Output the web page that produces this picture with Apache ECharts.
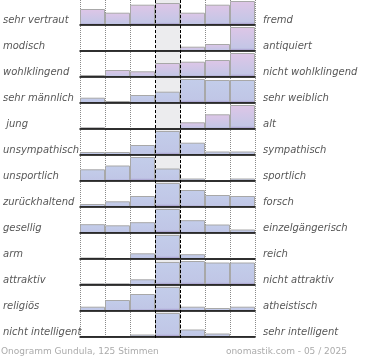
<!DOCTYPE html>
<html><head><meta charset="utf-8">
<script src="https://cdn.jsdelivr.net/npm/echarts@6/dist/echarts.min.js"></script>
<style>html,body{margin:0;padding:0;background:#fff}#c{width:370px;height:360px}</style>
</head><body><div id="c"></div>
<script>
// ---- data ----
const leftLabels = ['sehr vertraut','modisch','wohlklingend','sehr männlich',' jung','unsympathisch','unsportlich','zurückhaltend','gesellig','arm','attraktiv','religiös','nicht intelligent'];
const rightLabels = ['fremd','antiquiert','nicht wohlklingend','sehr weiblich','alt','sympathisch','sportlich','forsch','einzelgängerisch','reich','nicht attraktiv','atheistisch','sehr intelligent'];
const scaleSteps = ['1','2','3','4','5','6','7'];
const vertraut     = [16, 12.3, 20.3, 22, 12.3, 20.3, 24];
const modisch      = [0, 0.5, 0.5, 0.5, 4.3, 7, 24];
const wohlklingend = [2, 7, 5.7, 14, 15.3, 17, 24];
const maennlich    = [5.3, 2, 8, 11.3, 24, 23, 23];
const jung         = [1.7, 0, 0, 0, 6.7, 14.7, 24];
const unsympathisch= [3, 3, 10, 24, 12.3, 3.5, 3.5];
const unsportlich  = [11.7, 15.5, 24, 12.5, 2.5, 0, 2.5];
const zurueck      = [3, 5.7, 11, 24, 17, 12, 11];
const gesellig     = [8.8, 7.7, 10.8, 24, 12.8, 8.5, 3.5];
const arm          = [1.5, 1, 5.7, 24, 4.8, 0, 0];
const attraktiv    = [1.7, 1.7, 5.7, 23, 24, 22.5, 22.5];
const religioes    = [4.3, 11, 17, 24, 4.3, 3, 4.3];
const intelligent  = [0.5, 0.5, 2.5, 24, 7.5, 3.5, 1];
const rows = [vertraut, modisch, wohlklingend, maennlich, jung, unsympathisch, unsportlich, zurueck, gesellig, arm, attraktiv, religioes, intelligent];
const footerLeft = 'Onogramm Gundula, 125 Stimmen';
const footerRight = 'onomastik.com - 05 / 2025';

// ---- style ----
const maxValue = 24;
const pinkRows = [0, 1, 2, 4];
const ROW_H = 26, TOP = 1, BAR_H = 24, LEFT = 80, WIDTH = 175, LABEL_SHIFT = 7;
const labelStyle = {color:'#575757', fontStyle:'italic', fontFamily:'DejaVu Sans', fontSize:10};
function grad(pink) {
  return new echarts.graphic.LinearGradient(0, 0, 0, 1, pink ? [
    {offset:0, color:'#dec6e7'}, {offset:0.88, color:'#c3c6e6'}, {offset:1, color:'#9d8cc2'}
  ] : [
    {offset:0, color:'#c3cdea'}, {offset:0.88, color:'#c0c6e6'}, {offset:1, color:'#9d8cc2'}
  ]);
}

const grid = [], xAxis = [], yAxis = [], series = [];
rows.forEach((vals, i) => {
  const g = grid.length;
  grid.push({left: LEFT, width: WIDTH, top: TOP + i * ROW_H, height: BAR_H});
  xAxis.push({type:'category', gridIndex:g, data:scaleSteps, z:3,
    axisLine:{show:true, lineStyle:{color:'#000', width:1.5}},
    axisTick:{show:false}, axisLabel:{show:false}, splitLine:{show:false}});
  const yv = yAxis.length;
  yAxis.push({type:'value', gridIndex:g, min:0, max:maxValue, show:false});
  series.push({type:'bar', xAxisIndex:g, yAxisIndex:yv, data:vals, barWidth:'100%', silent:true, z:2,
    itemStyle:{color:grad(pinkRows.includes(i)), borderColor:'#a8a8a8', borderWidth:1}});
});
// label grids (one per row, shifted toward the baseline)
rows.forEach((vals, i) => {
  const g = grid.length;
  grid.push({left: LEFT, width: WIDTH, top: TOP + LABEL_SHIFT + i * ROW_H, height: BAR_H});
  xAxis.push({type:'category', gridIndex:g, data:scaleSteps, show:false});
  yAxis.push({type:'category', gridIndex:g, position:'left', data:[leftLabels[i]],
    axisLine:{show:false}, axisTick:{show:false}, splitLine:{show:false},
    axisLabel:Object.assign({align:'left', margin:82}, labelStyle)});
  yAxis.push({type:'category', gridIndex:g, position:'right', data:[rightLabels[i]],
    axisLine:{show:false}, axisTick:{show:false}, splitLine:{show:false},
    axisLabel:Object.assign({align:'left', margin:8}, labelStyle)});
});
// background grid for column lines
const bg = grid.length;
grid.push({left: LEFT, width: WIDTH, top: 0, height: 338});
xAxis.push({type:'value', gridIndex:bg, min:0, max:7, interval:1,
  axisLine:{show:false}, axisTick:{show:false}, axisLabel:{show:false},
  splitLine:{show:true, lineStyle:{type:[1,1], color:'#8a8a8a', width:1}}});
const ybg = yAxis.length;
yAxis.push({type:'value', gridIndex:bg, min:0, max:1, show:false});
series.push({type:'line', xAxisIndex:bg, yAxisIndex:ybg, data:[], silent:true,
  markArea:{silent:true, itemStyle:{color:'#ececee'}, data:[[{xAxis:3},{xAxis:4}]]},
  markLine:{silent:true, symbol:'none', z:10, label:{show:false},
    lineStyle:{color:'#000', type:[3,2], width:1}, data:[{xAxis:3},{xAxis:4}]}});

const chart = echarts.init(document.getElementById('c'), null, {renderer:'canvas'});
const footStyle = {fontSize:9, fontWeight:'normal', color:'#ababab', fontFamily:'DejaVu Sans'};
chart.setOption({
  animation:false,
  backgroundColor:'#fff',
  title:[
    {text:footerLeft, left:1, top:347, padding:0, textStyle:footStyle},
    {text:footerRight, right:23, top:347, padding:0, textStyle:footStyle}
  ],
  grid, xAxis, yAxis, series
});
</script></body></html>
